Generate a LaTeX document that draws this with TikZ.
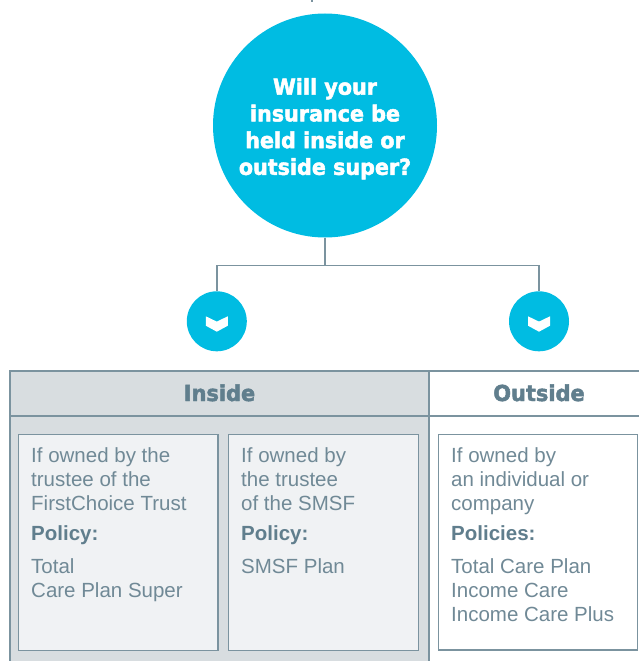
\documentclass[tikz,border=0pt]{standalone}
\usepackage{fontspec}
\setmainfont{Liberation Sans}
\newfontfamily\titlefont[FakeStretch=0.94,FakeBold=2.2]{DejaVu Sans Bold}
\newfontfamily\headfont[FakeStretch=0.95,FakeBold=2.2]{DejaVu Sans Bold}
\definecolor{cyanc}{RGB}{0,188,226}
\definecolor{lineg}{RGB}{123,147,159}
\definecolor{insidebg}{RGB}{216,221,224}
\definecolor{boxbg}{RGB}{240,242,244}
\definecolor{bodytxt}{RGB}{112,137,150}
\definecolor{headtxt}{RGB}{96,126,141}
\begin{document}
\begin{tikzpicture}[x=1pt,y=-1pt,
  conn/.style={draw=lineg,line width=1.4pt},
  tline/.style={draw=lineg,line width=1.6pt},
  bigc/.style={circle,fill=cyanc,minimum size=224pt,inner sep=0pt,outer sep=0pt},
  smallc/.style={circle,fill=cyanc,minimum size=60pt,inner sep=0pt,outer sep=0pt},
  chev/.style={fill=white},
  titletxt/.style={text=white,font=\titlefont\fontsize{22}{26.7}\selectfont,align=center,inner sep=0pt},
  headtxtst/.style={text=headtxt,font=\headfont\fontsize{22}{24}\selectfont,anchor=base,inner sep=0pt},
  ibox/.style={draw=lineg,line width=1.5pt,fill=boxbg,rectangle,inner sep=0pt,outer sep=0pt,anchor=north west,minimum height=216pt},
  obox/.style={draw=lineg,line width=1.5pt,fill=white,rectangle,inner sep=0pt,outer sep=0pt,anchor=north west,minimum height=215.5pt},
  body/.style={text=bodytxt,font=\fontsize{20.5}{24}\selectfont,anchor=base west,inner sep=0pt},
  bodyb/.style={text=headtxt,font=\bfseries\fontsize{20.5}{24}\selectfont,anchor=base west,inner sep=0pt}
]
\useasboundingbox (0,0) rectangle (639,661);

% top mark
\coordinate (tm) at (312,0);
\draw[conn] (tm) -- ++(0,2.5);

% question circle
\node[bigc] (big) at (325,125.5) {};
\node[titletxt] (title) at (325,128.7) {Will your\\insurance be\\held inside or\\outside super?};

% small circles
\node[smallc] (c1) at (216.8,321.3) {};
\node[smallc] (c2) at (539,321.3) {};
\fill[chev,shift={(c1.center)}] (-11,-5) -- (0,0.3) -- (11,-5) -- (11,4.4) -- (0,10.4) -- (-11,4.4) -- cycle;
\fill[chev,shift={(c2.center)}] (-11,-5) -- (0,0.3) -- (11,-5) -- (11,4.4) -- (0,10.4) -- (-11,4.4) -- cycle;

% connectors
\coordinate (j) at (325,265.7);
\draw[conn] (big.south) -- (j);
\draw[conn] (j) -| (c1.north);
\draw[conn] (j) -| (c2.north);

% table
\fill[insidebg] (10,370.7) rectangle (428.7,661);
\draw[tline] (639,370.7) -- (10,370.7) -- (10,661);
\draw[tline] (10,416) -- (639,416);
\draw[tline] (428.7,370.7) -- (428.7,661);

\node[headtxtst] (hin) at (219.5,401) {Inside};
\node[headtxtst] (hout) at (539,401) {Outside};

\node[ibox,minimum width=199.3pt] (box1) at (18.7,434.5) {};
\node[ibox,minimum width=190.4pt] (box2) at (228.3,434.5) {};
\node[obox,minimum width=199pt] (box3) at (438.7,434.3) {};

% box 1 text
\node[body] (a1) at (31,462.3) {If owned by the};
\node[body] (a2) at (31,486.3) {trustee of the};
\node[body] (a3) at (31,510.3) {FirstChoice Trust};
\node[bodyb] (a4) at (31,540.7) {Policy:};
\node[body] (a5) at (31,573) {Total};
\node[body] (a6) at (31,597) {Care Plan Super};

% box 2 text
\node[body] (b1) at (241,462.3) {If owned by};
\node[body] (b2) at (241,486.3) {the trustee};
\node[body] (b3) at (241,510.3) {of the SMSF};
\node[bodyb] (b4) at (241,540.7) {Policy:};
\node[body] (b5) at (241,573) {SMSF Plan};

% box 3 text
\node[body] (d1) at (451,462.3) {If owned by};
\node[body] (d2) at (451,486.3) {an individual or};
\node[body] (d3) at (451,510.3) {company};
\node[bodyb] (d4) at (451,540.7) {Policies:};
\node[body] (d5) at (451,573) {Total Care Plan};
\node[body] (d6) at (451,597) {Income Care};
\node[body] (d7) at (451,621) {Income Care Plus};
\end{tikzpicture}
\end{document}
